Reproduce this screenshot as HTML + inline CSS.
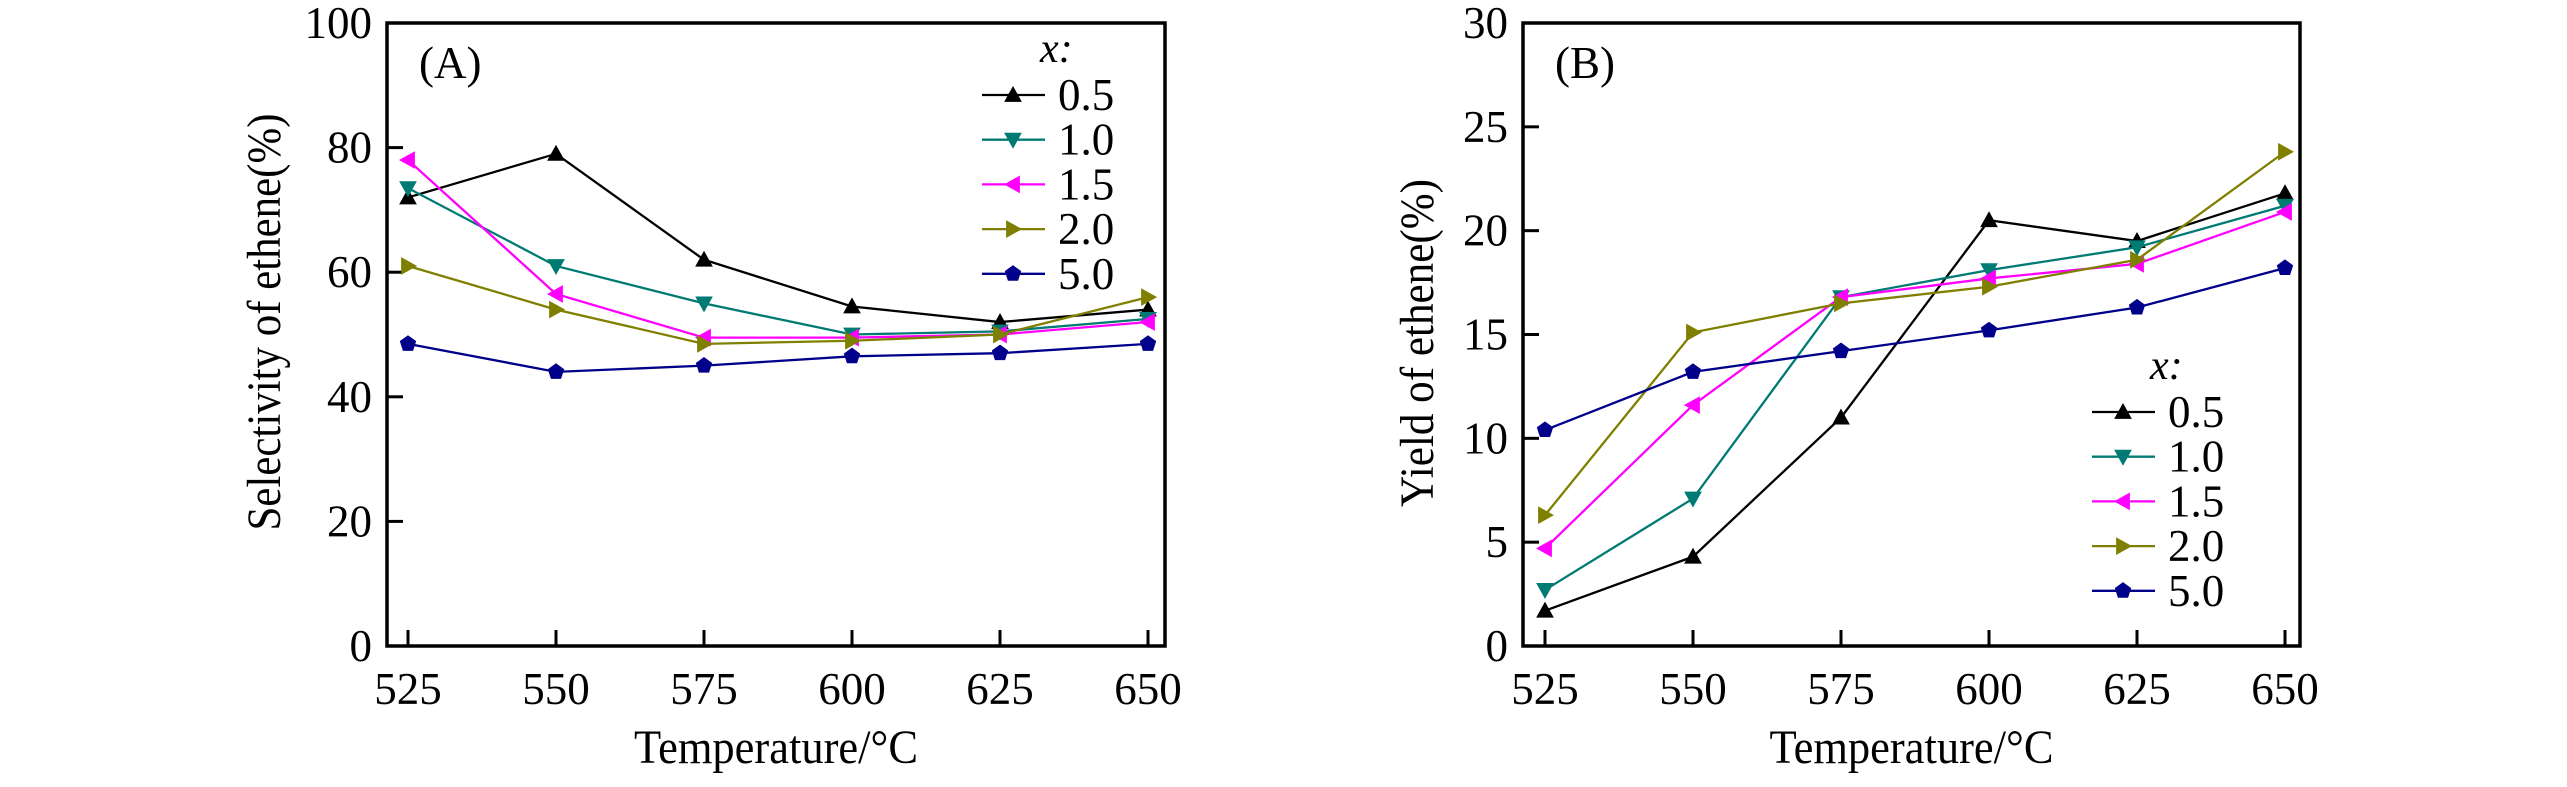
<!DOCTYPE html>
<html><head><meta charset="utf-8"><style>
html,body{margin:0;padding:0;background:#fff}
svg{display:block}
text{font-family:"Liberation Serif",serif;fill:#000}
</style></head><body>
<svg id="chart" width="2567" height="787" viewBox="0 0 2567 787" xmlns="http://www.w3.org/2000/svg"></svg>
<script>
const categories=[525,550,575,600,625,650];
const seriesLabels=["0.5","1.0","1.5","2.0","5.0"];
const selA05=[72,79,62,54.5,52,54];
const selA10=[73.5,61,55,50,50.5,52.5];
const selA15=[78,56.5,49.5,49.5,50,52];
const selA20=[61,54,48.5,49,50,56];
const selA50=[48.5,44,45,46.5,47,48.5];
const yldB05=[1.7,4.3,11,20.5,19.5,21.8];
const yldB10=[2.7,7.1,16.8,18.1,19.2,21.2];
const yldB15=[4.7,11.6,16.8,17.7,18.4,20.9];
const yldB20=[6.3,15.1,16.5,17.3,18.6,23.8];
const yldB50=[10.4,13.2,14.2,15.2,16.3,18.2];
const yTicksA=[0,20,40,60,80,100];
const yTicksB=[0,5,10,15,20,25,30];

const colors=["#000000","#007b73","#ff00ff","#7f7f00","#00008b"];
const shapes=["up","down","left","right","pent"];
const NS="http://www.w3.org/2000/svg";
const svg=document.getElementById('chart');
function mk(tag,attrs,parent){const e=document.createElementNS(NS,tag);for(const k in attrs)e.setAttribute(k,attrs[k]);(parent||svg).appendChild(e);return e;}
function marker(shape,x,y,c,g){
  const s=8;let p;
  if(shape==="up")p=[[x,y-s],[x+s,y+s*0.8],[x-s,y+s*0.8]];
  else if(shape==="down")p=[[x,y+s],[x+s,y-s*0.8],[x-s,y-s*0.8]];
  else if(shape==="left")p=[[x-s,y],[x+s*0.8,y-s],[x+s*0.8,y+s]];
  else if(shape==="right")p=[[x+s,y],[x-s*0.8,y-s],[x-s*0.8,y+s]];
  else {p=[];for(let i=0;i<5;i++){const a=-Math.PI/2+i*2*Math.PI/5;p.push([x+s*Math.cos(a),y+s*Math.sin(a)]);}}
  const m=mk('polygon',{points:p.map(q=>q.join(',')).join(' '),fill:c,stroke:c,'stroke-width':1},g);
  
  
}
function panel(cfg){
  const g=mk('g',{});
  
  
  const xs=v=>cfg.x0+(v-525)/(650-525)*(cfg.x1-cfg.x0);
  const ys=v=>cfg.bottom-(v/cfg.ymax)*(cfg.bottom-cfg.top);
  cfg.yTicks.forEach(t=>{
    const y=ys(t);
    if(t>0&&t<cfg.ymax){const tk=mk('line',{x1:cfg.left,x2:cfg.left+16,y1:y,y2:y,stroke:'#000','stroke-width':3},g);
    }
    const tl=mk('text',{x:cfg.left-15,y:y+15,'font-size':45,'text-anchor':'end'},g);tl.textContent=t;
    
  });
  categories.forEach(c=>{
    const x=xs(c);
    const tk=mk('line',{x1:x,x2:x,y1:cfg.bottom,y2:cfg.bottom-16,stroke:'#000','stroke-width':3},g);
    
    const tl=mk('text',{x:x,y:704,'font-size':45,'text-anchor':'middle'},g);tl.textContent=c;
    
  });
  cfg.series.forEach((d,i)=>{
    const sg=mk('g',{},g);
    
    
    const pl=mk('polyline',{points:d.map((v,j)=>xs(categories[j])+','+ys(v)).join(' '),fill:'none',stroke:colors[i],'stroke-width':2.3},sg);
    
    d.forEach((v,j)=>marker(shapes[i],xs(categories[j]),ys(v),colors[i],sg));
  });
  const box=mk('rect',{x:cfg.left,y:cfg.top,width:cfg.right-cfg.left,height:cfg.bottom-cfg.top,fill:'none',stroke:'#000','stroke-width':3.5},g);
  
  const pt=mk('text',{x:cfg.left+32,y:78,'font-size':45},g);pt.textContent=cfg.tag;
  
  const xt=mk('text',{x:(cfg.left+cfg.right)/2,y:763,'font-size':48,'text-anchor':'middle',textLength:284,lengthAdjust:'spacingAndGlyphs'},g);xt.textContent='Temperature/°C';
  
  const yt=mk('text',{x:0,y:0,'font-size':48,'text-anchor':'middle',textLength:cfg.ylen,lengthAdjust:'spacingAndGlyphs',transform:`translate(${cfg.ytx},${cfg.ytc}) rotate(-90)`},g);yt.textContent=cfg.ytitle;
  
  const lg=mk('g',{},g);
  
  const lh=mk('text',{x:cfg.lx+58,y:cfg.ly-33,'font-size':42,'font-style':'italic'},lg);lh.textContent='x:';
  
  seriesLabels.forEach((s,i)=>{
    const y=cfg.ly+i*44.7;
    const eg=mk('g',{},lg);
    
    mk('line',{x1:cfg.lx,x2:cfg.lx+63,y1:y,y2:y,stroke:colors[i],'stroke-width':2.3},eg);
    marker(shapes[i],cfg.lx+31,y,colors[i],eg);
    const t=mk('text',{x:cfg.lx+76,y:y+15,'font-size':45},eg);t.textContent=s;
  });
}
panel({name:'panel-a',left:387,right:1165,top:23,bottom:646,x0:408,x1:1148,ymax:100,yTicks:yTicksA,
  series:[selA05,selA10,selA15,selA20,selA50],tag:'(A)',ytitle:'Selectivity of ethene(%)',ytx:280,ytc:322,ylen:417,lx:982,ly:95});
panel({name:'panel-b',left:1523,right:2300,top:23,bottom:646,x0:1545,x1:2285,ymax:30,yTicks:yTicksB,
  series:[yldB05,yldB10,yldB15,yldB20,yldB50],tag:'(B)',ytitle:'Yield of ethene(%)',ytx:1433,ytc:343,ylen:328,lx:2092,ly:412});
</script>
</body></html>
